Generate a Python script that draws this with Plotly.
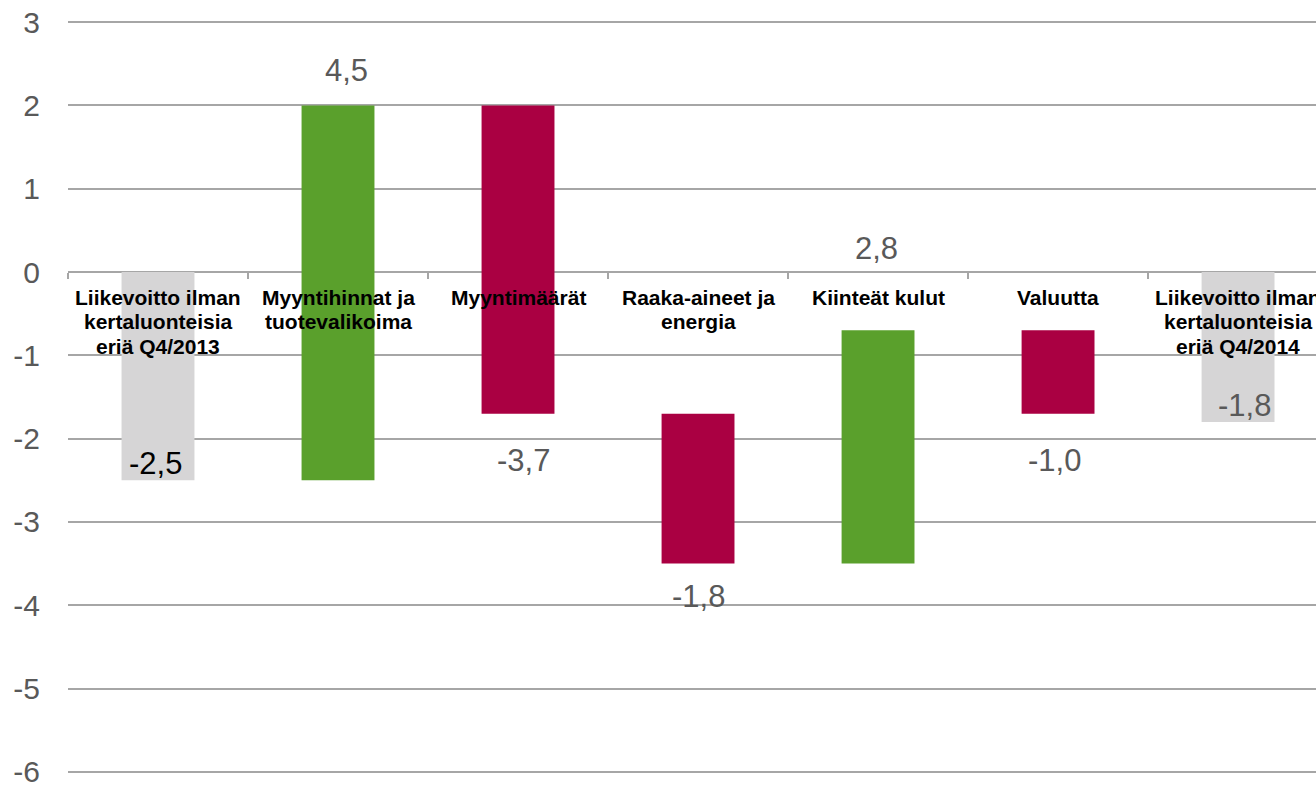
import plotly.graph_objects as go

# ---------------- data ----------------
categories = [
    "Liikevoitto ilman kertaluonteisia eriä Q4/2013",
    "Myyntihinnat ja tuotevalikoima",
    "Myyntimäärät",
    "Raaka-aineet ja energia",
    "Kiinteät kulut",
    "Valuutta",
    "Liikevoitto ilman kertaluonteisia eriä Q4/2014",
]
category_lines = [
    ["Liikevoitto ilman", "kertaluonteisia", "eriä Q4/2013"],
    ["Myyntihinnat ja", "tuotevalikoima"],
    ["Myyntimäärät"],
    ["Raaka-aineet ja", "energia"],
    ["Kiinteät kulut"],
    ["Valuutta"],
    ["Liikevoitto ilman", "kertaluonteisia", "eriä Q4/2014"],
]
changes = [-2.5, 4.5, -3.7, -1.8, 2.8, -1.0, -1.8]
measures = ["absolute", "relative", "relative", "relative", "relative", "relative", "absolute"]
tick_values = list(range(-6, 4))
tick_labels = [str(v) for v in tick_values]
value_labels = [f"{v:.1f}".replace(".", ",") for v in changes]

# ---------------- styles ----------------
GREEN = "#5aa02c"
RED = "#aa0042"
GREY_BAR = "#d6d5d6"
GRID = "#a6a6a6"
TXT = "#595959"
FONT = "Arial, Liberation Sans, sans-serif"

label_anchor = ["low", "high", "low", "low", "high", "low", "low"]
label_shift = [17, 35, -47, -33, 82, -47, 16]
label_xshift = [-3, 8, 5, 0, -2, -4, 6]
label_color = ["#000000", TXT, TXT, TXT, TXT, TXT, TXT]

# running bar ends (for label placement)
lows, highs = [], []
running = 0.0
for v, m in zip(changes, measures):
    if m == "absolute":
        s, e = 0.0, v
        running = v
    else:
        s, e = running, running + v
        running = e
    lows.append(min(s, e))
    highs.append(max(s, e))

ymin, ymax = -6.05, 3.05

fig = go.Figure()
fig.add_trace(go.Waterfall(
    x=categories,
    y=changes,
    measure=measures,
    base=0,
    width=0.405,
    increasing=dict(marker=dict(color=GREEN, line=dict(width=0))),
    decreasing=dict(marker=dict(color=RED, line=dict(width=0))),
    totals=dict(marker=dict(color=GREY_BAR, line=dict(width=0))),
    connector=dict(visible=False),
    textinfo="none",
    hoverinfo="skip",
    showlegend=False,
))

annotations = []
for i, cat in enumerate(categories):
    ref = lows[i] if label_anchor[i] == "low" else highs[i]
    annotations.append(dict(
        x=cat, y=ref, xref="x", yref="y",
        text=value_labels[i], showarrow=False,
        yanchor="middle", xanchor="center",
        yshift=label_shift[i], xshift=label_xshift[i],
        font=dict(family=FONT, size=31, color=label_color[i]),
    ))
    for j, line in enumerate(category_lines[i]):
        annotations.append(dict(
            x=cat, y=0, xref="x", yref="y",
            text="<b>" + line + "</b>", showarrow=False,
            yanchor="middle", xanchor="center",
            yshift=-(25 + 24.6 * j),
            font=dict(family=FONT, size=21, color="#000000"),
        ))

fig.update_layout(
    width=1316, height=788,
    margin=dict(l=68, r=0, t=18.3, b=8.8),
    paper_bgcolor="white", plot_bgcolor="white",
    annotations=annotations,
    showlegend=False,
    xaxis=dict(
        type="category",
        range=[-0.5, 6.433],
        anchor="free",
        position=(0 - ymin) / (ymax - ymin),
        showline=True, linecolor=GRID, linewidth=2,
        ticks="outside", tickson="boundaries", ticklen=6,
        tickcolor=GRID, tickwidth=2,
        showticklabels=False, showgrid=False,
        layer="below traces",
        fixedrange=True,
    ),
    yaxis=dict(
        range=[ymin, ymax],
        tickvals=tick_values, ticktext=tick_labels,
        showgrid=True, gridcolor=GRID, gridwidth=2,
        zeroline=False, showline=False, ticks="",
        ticklabelstandoff=27,
        ticklabeloverflow="allow",
        tickfont=dict(family=FONT, size=30, color=TXT),
        fixedrange=True,
    ),
)

fig.write_html(
    "out.html",
    config={"displayModeBar": False, "staticPlot": True},
    post_script=(
        "document.body.style.margin='0';"
        "document.body.style.overflow='hidden';"
        "document.documentElement.style.overflow='hidden';"
        "document.querySelectorAll('.plotly-graph-div').forEach(function(d){d.style.overflow='hidden';});"
    ),
)
